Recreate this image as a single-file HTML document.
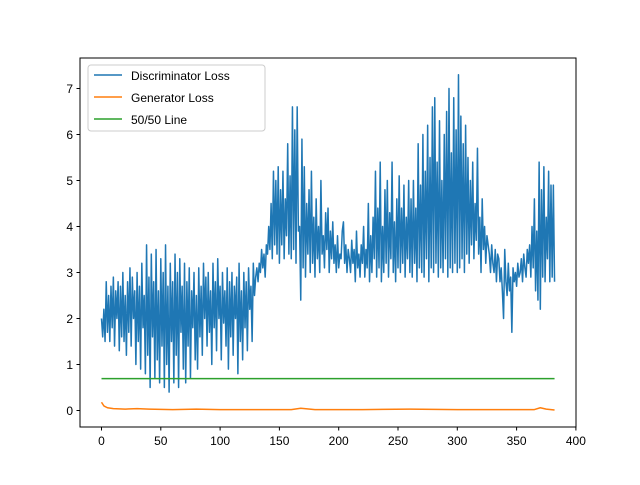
<!DOCTYPE html>
<html><head><meta charset="utf-8"><style>
body{margin:0;background:#fff}
svg text{font-family:"Liberation Sans","DejaVu Sans",sans-serif;font-size:12px;fill:#000}
</style></head><body>
<svg id="chart" width="640" height="480" xmlns="http://www.w3.org/2000/svg">
<rect width="640" height="480" fill="#fff"/>
<g id="plot"></g>
<rect x="80" y="58" width="496" height="369" fill="none" stroke="#000" stroke-width="1"/>
<g id="ticks"></g>
<g>
<rect x="88" y="65" width="177" height="66" rx="3" fill="#fff" fill-opacity="0.8" stroke="#ccc"/>
<line x1="94" y1="75" x2="122" y2="75" stroke="#1f77b4" stroke-width="1.5"/>
<text x="131" y="80">Discriminator Loss</text>
<line x1="94" y1="97" x2="122" y2="97" stroke="#ff7f0e" stroke-width="1.5"/>
<text x="131" y="102">Generator Loss</text>
<line x1="94" y1="119" x2="122" y2="119" stroke="#2ca02c" stroke-width="1.5"/>
<text x="131" y="124">50/50 Line</text>
</g>
</svg>
<script>
const discStep = 1;
const discLoss = [
2.0,1.6,2.2,1.5,2.8,1.7,2.5,1.5,2.7,1.8,
2.9,1.4,2.6,2.0,2.8,1.3,2.7,1.6,3.0,1.5,
2.5,1.2,2.8,1.7,3.1,1.4,2.9,2.0,2.6,1.0,
3.0,1.5,2.7,0.9,3.2,1.8,2.5,0.8,3.6,1.2,
2.9,0.5,3.4,1.6,2.8,0.7,3.5,1.1,2.6,0.6,
3.3,1.4,3.0,0.5,3.6,1.0,2.7,0.4,3.2,1.5,
2.8,0.6,3.4,1.2,3.0,0.5,3.3,1.7,2.7,0.9,
3.2,0.6,2.8,1.4,3.1,0.7,2.6,1.8,3.0,1.1,
2.5,0.9,3.1,1.6,2.7,1.2,3.2,2.0,2.9,1.4,
3.0,1.7,2.6,1.0,3.2,1.8,2.8,1.3,3.3,2.0,
2.7,1.1,3.0,1.9,2.6,1.4,3.1,0.9,2.8,1.6,
3.0,1.2,2.7,2.0,2.9,0.8,3.2,1.5,2.6,1.1,
3.0,1.8,2.8,1.3,3.1,2.2,2.7,1.5,3.2,2.5,
2.9,3.1,2.8,3.2,3.0,3.5,3.1,3.4,2.9,3.6,
3.4,4.0,3.5,4.5,3.3,5.2,3.6,5.0,3.4,5.3,
3.2,4.8,3.6,5.2,3.3,4.6,3.8,5.8,3.4,5.1,
3.3,6.6,3.5,6.1,3.2,6.6,3.9,4.0,2.4,5.9,
3.1,5.3,2.9,4.5,3.4,4.8,3.0,5.2,3.2,4.2,
2.9,4.6,3.3,4.0,3.0,5.0,3.4,3.8,3.1,4.3,
3.5,4.4,3.0,3.9,3.3,4.1,3.2,3.6,3.0,3.8,
3.1,3.4,3.3,3.9,4.1,3.2,3.6,3.0,3.5,3.3,
3.0,3.7,3.2,3.5,2.8,3.9,3.1,3.4,2.9,3.6,
3.2,4.0,2.9,3.5,3.1,4.5,2.8,3.8,3.0,4.2,
3.3,5.2,2.9,4.4,3.1,5.4,2.8,4.0,3.0,4.8,
3.2,5.0,2.9,4.3,3.3,5.4,3.0,4.1,2.8,4.6,
3.1,5.1,3.0,4.4,3.2,4.9,2.9,4.2,3.3,5.0,
3.0,4.6,2.9,5.0,3.2,4.4,2.8,5.8,3.1,4.9,
3.0,6.0,2.9,5.2,3.3,6.2,2.8,5.5,3.1,6.6,
3.0,6.8,3.2,5.4,2.9,6.3,3.1,5.0,3.0,6.0,
3.3,6.5,2.9,7.0,3.1,5.6,3.0,6.8,3.2,6.1,
3.0,7.3,3.1,6.4,3.3,5.8,3.0,6.2,3.4,5.5,
3.2,5.0,3.6,5.4,3.3,4.5,3.7,5.7,3.4,4.2,
3.0,4.6,3.5,4.0,3.2,3.8,3.6,3.4,3.0,3.6,
3.2,3.0,3.5,2.8,3.4,3.3,2.8,3.1,2.6,2.0,
3.5,2.8,2.5,3.2,2.6,2.9,1.7,3.1,2.8,3.0,
2.7,3.2,2.9,3.0,3.3,2.8,3.4,3.1,2.9,3.5,
3.2,3.6,2.9,4.0,3.1,4.6,2.6,3.9,2.4,5.4,
2.2,4.8,2.9,5.3,2.8,4.2,3.3,5.2,2.8,4.9,
2.9,4.9,2.8];
const genX = [0,2,5,10,20,30,40,60,80,100,130,160,168,180,220,260,300,340,365,370,375,382];
const genLoss = [0.18,0.1,0.06,0.04,0.03,0.04,0.03,0.02,0.03,0.02,0.02,0.02,0.05,0.02,0.02,0.03,0.02,0.02,0.02,0.06,0.03,0.01];
const fiftyX = [0,382];
const fiftyY = [0.693,0.693];
const xTicks = [0,50,100,150,200,250,300,350,400];
const yTicks = [0,1,2,3,4,5,6,7];
const NS='http://www.w3.org/2000/svg';
const xs=v=>101.5+v*1.186;
const ys=v=>410.5-v*46;
const plot=document.getElementById('plot'), tk=document.getElementById('ticks');
function mk(t,a,p){const e=document.createElementNS(NS,t);for(const k in a)e.setAttribute(k,a[k]);p.appendChild(e);return e;}
function line(xv,yv,c,name){
 const p=mk('polyline',{points:xv.map((x,i)=>xs(x)+','+ys(yv[i])).join(' '),fill:'none',stroke:c,'stroke-width':1.5,'stroke-linejoin':'round'},plot);
 
 
}
line(discLoss.map((v,i)=>i*discStep),discLoss,'#1f77b4','discriminator-loss-line');
line(genX,genLoss,'#ff7f0e','generator-loss-line');
line(fiftyX,fiftyY,'#2ca02c','fifty-fifty-line');
xTicks.forEach(v=>{
 mk('line',{x1:xs(v),x2:xs(v),y1:427,y2:430.5,stroke:'#000'},tk);
 const t=mk('text',{x:xs(v),y:445,'text-anchor':'middle'},tk);t.textContent=v;
 
 
});
yTicks.forEach(v=>{
 mk('line',{x1:76.5,x2:80,y1:ys(v),y2:ys(v),stroke:'#000'},tk);
 const t=mk('text',{x:73,y:ys(v)+4.5,'text-anchor':'end'},tk);t.textContent=v;
 
 
});
</script>
</body></html>
